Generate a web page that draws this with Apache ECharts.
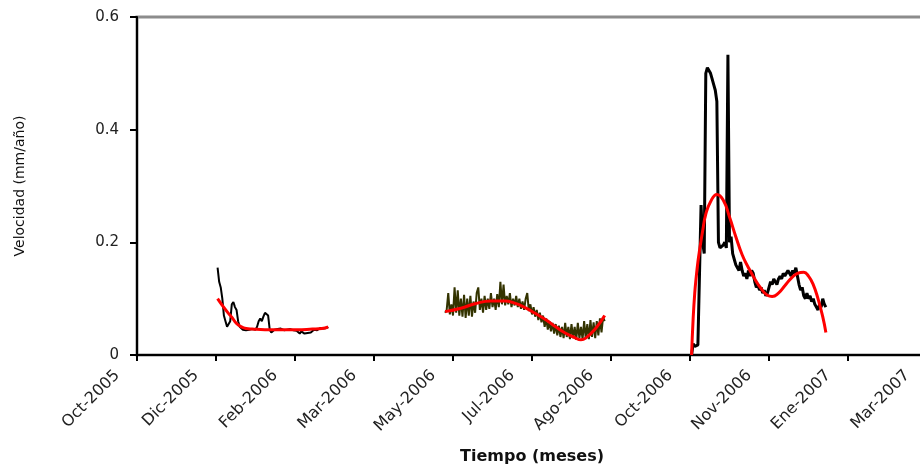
<!DOCTYPE html>
<html>
<head>
<meta charset="utf-8">
<script src="https://cdn.jsdelivr.net/npm/echarts@6/dist/echarts.min.js"></script>
<style>
html,body{margin:0;padding:0;background:#fff;}
#chart{width:920px;height:465px;}
</style>
</head>
<body>
<div id="chart"></div>
<script>
// ---- Data (daily series, Excel date serials on x) ----
var monthNames = ['Ene','Feb','Mar','Abr','May','Jun','Jul','Ago','Sep','Oct','Nov','Dic'];
var yTicks = [0, 0.2, 0.4, 0.6];

// Segment 1 (Dic-2005 – Feb-2006), daily
var seg1Start = '2005-12-15';
var seg1Values = [0.155,0.13,0.12,0.1,0.07,0.06,0.05,0.055,0.06,0.09,0.094,0.085,0.08,0.06,0.05,0.048,
  0.045,0.047,0.044,0.046,0.045,0.043,0.046,0.044,0.045,0.05,0.06,0.065,0.06,0.068,0.075,0.076,0.07,
  0.045,0.04,0.042,0.045,0.044,0.046,0.045,0.047,0.045,0.044,0.046,0.045,0.044,0.046,0.045,0.044,0.045,
  0.043,0.04,0.038,0.042,0.04,0.038,0.041,0.039,0.042,0.04,0.043,0.045,0.047,0.044,0.046,0.048,0.045,
  0.047,0.049,0.048,0.05];
var fit1Days = [0,3,6,9,12,15,18,22,30,40,50,60,66,70];
var fit1Values = [0.10,0.088,0.077,0.067,0.056,0.05,0.047,0.046,0.045,0.045,0.045,0.046,0.047,0.05];

// Segment 2 (May-2006 – Ago-2006), daily
var seg2Start = '2006-05-08';
var seg2Values = [0.075,0.08,0.11,0.072,0.09,0.07,0.12,0.075,0.115,0.07,0.1,0.068,0.107,0.066,0.1,0.07,
  0.105,0.068,0.095,0.075,0.11,0.12,0.08,0.1,0.075,0.105,0.08,0.1,0.082,0.11,0.085,0.1,0.08,0.108,0.085,
  0.13,0.09,0.125,0.088,0.105,0.09,0.11,0.085,0.1,0.088,0.105,0.085,0.1,0.082,0.095,0.08,0.1,0.11,0.078,
  0.09,0.072,0.085,0.068,0.08,0.062,0.075,0.058,0.07,0.05,0.065,0.045,0.06,0.042,0.057,0.038,0.055,0.035,
  0.052,0.032,0.05,0.03,0.057,0.032,0.05,0.028,0.055,0.03,0.05,0.027,0.057,0.03,0.05,0.028,0.06,0.03,
  0.055,0.028,0.062,0.032,0.058,0.03,0.06,0.035,0.065,0.04,0.067,0.06];
var fit2Days = [0,10,19,29,38,44,50,57,64,70,76,82,86,89,95,101];
var fit2Values = [0.077,0.083,0.091,0.096,0.096,0.092,0.085,0.074,0.062,0.05,0.039,0.031,0.027,0.03,0.046,0.07];

// Segment 3 (Oct-2006 – Ene-2007), daily
var seg3Start = '2006-10-11';
var seg3Values = [0.0,0.02,0.015,0.018,0.018,0.02,0.266,0.2,0.18,0.5,0.51,0.505,0.5,0.49,0.48,0.47,
  0.45,0.2,0.19,0.19,0.195,0.2,0.19,0.533,0.2,0.21,0.18,0.17,0.16,0.155,0.15,0.165,0.15,0.14,0.145,0.135,
  0.15,0.14,0.15,0.145,0.13,0.12,0.125,0.115,0.12,0.11,0.115,0.105,0.11,0.12,0.13,0.125,0.135,0.13,0.125,
  0.135,0.14,0.135,0.145,0.14,0.145,0.15,0.145,0.14,0.15,0.145,0.155,0.14,0.125,0.115,0.12,0.105,0.1,
  0.11,0.1,0.105,0.095,0.1,0.09,0.085,0.08,0.09,0.085,0.1,0.09,0.085];
var fit3Days = [0,1,2,3,4,5,7,9,12,16,20,24,28,32,36,40,44,48,51,55,59,63,67,71,74,77,80,83,85];
var fit3Values = [0.0,0.065,0.11,0.14,0.165,0.185,0.22,0.25,0.272,0.285,0.275,0.245,0.21,0.178,0.155,
  0.135,0.118,0.106,0.104,0.11,0.123,0.136,0.145,0.147,0.14,0.125,0.1,0.068,0.04];

// ---- helpers ----
function serial(iso){ var p = iso.split('-'); return Date.UTC(+p[0], +p[1]-1, +p[2]) / 864e5 + 25569; }
function daily(start, vals){ var s = serial(start); return vals.map(function(v,i){ return [s+i, v]; }); }
function byDays(start, days, vals){ var s = serial(start); return days.map(function(d,i){ return [s+d, vals[i]]; }); }
function fmtDate(v){
  var d = new Date((Math.round(v) - 25569) * 864e5);
  return monthNames[d.getUTCMonth()] + '-' + d.getUTCFullYear();
}

var FONT = 'DejaVu Sans';
var chart = echarts.init(document.getElementById('chart'));
function dataLine(data, color, w){
  return {type:'line', data:data, showSymbol:false, smooth:false, lineStyle:{color:color, width:w}, itemStyle:{color:color}, z:2};
}
function fitLine(data){
  return {type:'line', data:data, showSymbol:false, smooth:0.5, lineStyle:{color:'#ff0000', width:3}, itemStyle:{color:'#ff0000'}, z:3};
}
chart.setOption({
  animation:false,
  backgroundColor:'#fff',
  grid:{left:137, width:790, top:17, bottom:110, containLabel:false, outerBoundsMode:'none',
    show:true, borderColor:'#8c8c8c', borderWidth:3},
  xAxis:{
    type:'value', min:38650, max:39150, interval:50,
    name:'Tiempo (meses)', nameLocation:'middle', nameGap:94,
    nameTextStyle:{fontFamily:FONT, fontSize:16, fontWeight:'bold', color:'#111'},
    axisLine:{show:true, lineStyle:{color:'#000', width:2}},
    axisTick:{show:true, inside:false, length:6, lineStyle:{color:'#000', width:2}},
    splitLine:{show:false},
    axisLabel:{rotate:45, margin:-2, padding:[0,28,0,0], fontFamily:FONT, fontSize:16, color:'#222',
      showMinLabel:true, showMaxLabel:true, formatter:fmtDate}
  },
  yAxis:{
    type:'value', min:yTicks[0], max:yTicks[yTicks.length-1], interval:0.2,
    name:'Velocidad (mm/año)', nameLocation:'middle', nameGap:110,
    nameTextStyle:{fontFamily:FONT, fontSize:14, color:'#111'},
    axisLine:{show:true, lineStyle:{color:'#000', width:2}},
    axisTick:{show:true, inside:false, length:7, lineStyle:{color:'#000', width:2}},
    splitLine:{show:false},
    axisLabel:{margin:18, fontFamily:FONT, fontSize:15, color:'#222',
      formatter:function(v){ return v === 0 ? '0' : v.toFixed(1); }}
  },
  series:[
    dataLine(daily(seg1Start, seg1Values), '#000000', 2),
    dataLine(daily(seg2Start, seg2Values), '#333300', 2),
    dataLine(daily(seg3Start, seg3Values), '#000000', 3),
    fitLine(byDays(seg1Start, fit1Days, fit1Values)),
    fitLine(byDays(seg2Start, fit2Days, fit2Values)),
    fitLine(byDays(seg3Start, fit3Days, fit3Values))
  ]
});
</script>
</body>
</html>
